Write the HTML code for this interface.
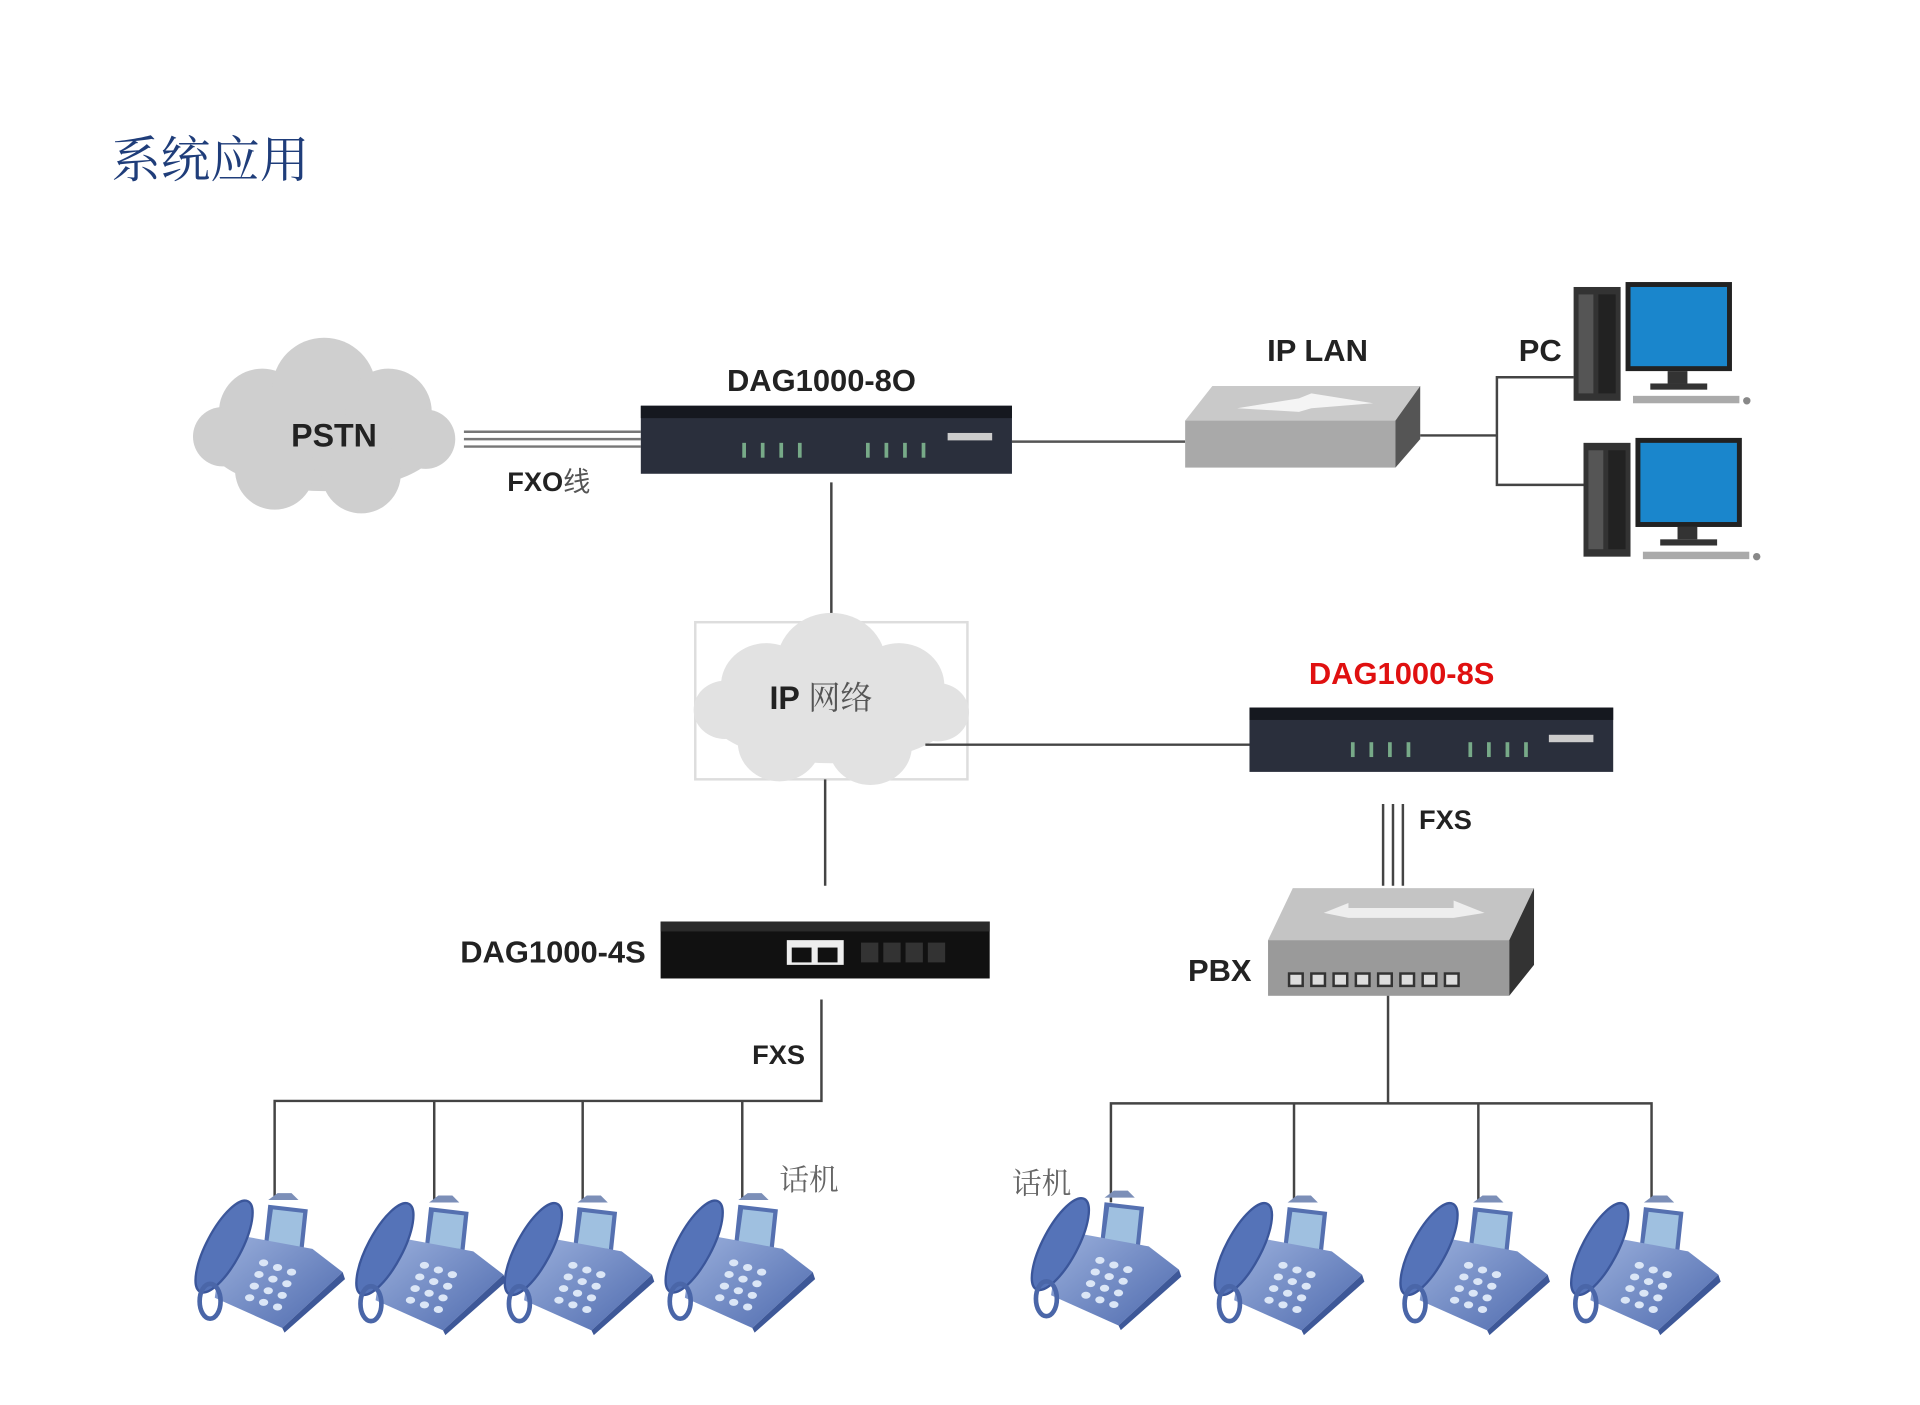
<!DOCTYPE html>
<html><head><meta charset="utf-8"><style>html,body{margin:0;padding:0;background:#fff}svg{display:block}</style></head><body>
<svg width="1920" height="1405" viewBox="0 0 1552 1135.8" preserveAspectRatio="none" xmlns="http://www.w3.org/2000/svg" font-family="Liberation Sans, Noto Sans CJK SC, sans-serif">
<defs>
<linearGradient id="ph" x1="0" y1="0" x2="1" y2="1"><stop offset="0" stop-color="#9bb0dc"/><stop offset="1" stop-color="#4e6aae"/></linearGradient>
<g id="phone">
<path d="M-14,-2 L-6,-8 L6,-8 L12,-2 Z" fill="#7c8fb8"/>
<polygon points="-14,2 20,6 16,44 -18,40" fill="#5570b0"/>
<polygon points="-10,6 16,9 13,38 -14,35" fill="#9fc0e0"/>
<polygon points="-52,26 24,40 50,60 -2,108 -60,82" fill="url(#ph)"/>
<polygon points="-2,108 50,60 52,66 0,112" fill="#3e5898"/>
<ellipse cx="-52" cy="38" rx="15" ry="44" transform="rotate(28 -52 38)" fill="#5573b8" stroke="#3b569a" stroke-width="2"/>
<ellipse cx="-64" cy="85" rx="9" ry="15" fill="none" stroke="#4a66a8" stroke-width="4"/>
<g fill="#dbe6f6">
<ellipse cx="-18" cy="52" rx="4" ry="3"/><ellipse cx="-6" cy="56" rx="4" ry="3"/><ellipse cx="6" cy="60" rx="4" ry="3"/>
<ellipse cx="-22" cy="62" rx="4" ry="3"/><ellipse cx="-10" cy="66" rx="4" ry="3"/><ellipse cx="2" cy="70" rx="4" ry="3"/>
<ellipse cx="-26" cy="72" rx="4" ry="3"/><ellipse cx="-14" cy="76" rx="4" ry="3"/><ellipse cx="-2" cy="80" rx="4" ry="3"/>
<ellipse cx="-30" cy="82" rx="4" ry="3"/><ellipse cx="-18" cy="86" rx="4" ry="3"/><ellipse cx="-6" cy="90" rx="4" ry="3"/>
</g>
</g>
<g id="cloud">
<ellipse cx="0" cy="10" rx="95" ry="42"/><circle cx="-50" cy="-12" r="35"/><circle cx="0" cy="-30" r="42"/><circle cx="52" cy="-12" r="35"/><circle cx="-40" cy="35" r="32"/><circle cx="30" cy="38" r="32"/><circle cx="-82" cy="8" r="24"/><circle cx="82" cy="10" r="24"/>
</g>
<g id="pc">
<rect x="0" y="4" width="38" height="92" fill="#333"/><rect x="4" y="10" width="12" height="80" fill="#555"/><rect x="20" y="10" width="14" height="80" fill="#222"/>
<rect x="42" y="0" width="86" height="72" fill="#222"/><rect x="46" y="4" width="78" height="64" fill="#1a86cc"/>
<rect x="76" y="72" width="16" height="10" fill="#333"/><rect x="62" y="82" width="46" height="5" fill="#333"/>
<rect x="48" y="92" width="86" height="6" fill="#aaa"/><circle cx="140" cy="96" r="3" fill="#888"/>
</g>
</defs>

<text x="90" y="143" font-size="40" fill="#1f3d7a" font-family="Noto Serif CJK SC, serif">系统应用</text>

<g fill="#cfcfcf" transform="translate(262,345)"><use href="#cloud"/></g>
<text x="270" y="361" font-size="26" font-weight="bold" text-anchor="middle" fill="#222">PSTN</text>
<g stroke="#777" stroke-width="2"><line x1="375" y1="349" x2="518" y2="349"/><line x1="375" y1="355" x2="518" y2="355"/><line x1="375" y1="361" x2="518" y2="361"/></g>
<text x="410" y="397" font-size="22" font-weight="bold" fill="#222">FXO<tspan font-weight="normal" fill="#555">线</tspan></text>

<text x="664" y="316" font-size="25" font-weight="bold" text-anchor="middle" fill="#222">DAG1000-8O</text>
<rect x="518" y="328" width="300" height="55" fill="#2a2f3c"/><rect x="518" y="328" width="300" height="10" fill="#15181f"/>
<g fill="#7a8"><rect x="600" y="358" width="3" height="12"/><rect x="615" y="358" width="3" height="12"/><rect x="630" y="358" width="3" height="12"/><rect x="645" y="358" width="3" height="12"/><rect x="700" y="358" width="3" height="12"/><rect x="715" y="358" width="3" height="12"/><rect x="730" y="358" width="3" height="12"/><rect x="745" y="358" width="3" height="12"/></g>
<rect x="766" y="350" width="36" height="6" fill="#ccc"/>

<line x1="818" y1="357" x2="958" y2="357" stroke="#555" stroke-width="2"/>
<text x="1065" y="292" font-size="25" font-weight="bold" text-anchor="middle" fill="#222">IP LAN</text>
<polygon points="980,312 1148,312 1128,340 958,340" fill="#c9c9c9"/>
<rect x="958" y="340" width="170" height="38" fill="#a9a9a9"/>
<polygon points="1128,340 1148,312 1148,355 1128,378" fill="#555"/>
<polygon points="1000,330 1050,322 1060,318 1110,326 1060,330 1050,333" fill="#fff" opacity=".8"/>
<g stroke="#444" stroke-width="2" fill="none"><polyline points="1148,352 1210,352"/><polyline points="1272,305 1210,305 1210,392 1280,392"/></g>
<text x="1245" y="292" font-size="25" font-weight="bold" text-anchor="middle" fill="#222">PC</text>
<g transform="translate(1272,228)"><use href="#pc"/></g>
<g transform="translate(1280,354)"><use href="#pc"/></g>

<line x1="672" y1="390" x2="672" y2="515" stroke="#444" stroke-width="2"/>
<rect x="562" y="503" width="220" height="127" fill="none" stroke="#ddd" stroke-width="2"/>
<g fill="#e2e2e2" transform="translate(672,566) scale(1.05,0.98)"><use href="#cloud"/></g>
<text x="622" y="573" font-size="26" font-weight="bold" fill="#222">IP <tspan font-weight="normal" fill="#555" font-family="Noto Serif CJK SC, serif">网络</tspan></text>
<line x1="748" y1="602" x2="1010" y2="602" stroke="#444" stroke-width="2"/>

<text x="1133" y="553" font-size="25" font-weight="bold" text-anchor="middle" fill="#e01010">DAG1000-8S</text>
<rect x="1010" y="572" width="294" height="52" fill="#2a2f3c"/><rect x="1010" y="572" width="294" height="10" fill="#15181f"/>
<g fill="#7a8"><rect x="1092" y="600" width="3" height="12"/><rect x="1107" y="600" width="3" height="12"/><rect x="1122" y="600" width="3" height="12"/><rect x="1137" y="600" width="3" height="12"/><rect x="1187" y="600" width="3" height="12"/><rect x="1202" y="600" width="3" height="12"/><rect x="1217" y="600" width="3" height="12"/><rect x="1232" y="600" width="3" height="12"/></g>
<rect x="1252" y="594" width="36" height="6" fill="#ccc"/>
<g stroke="#444" stroke-width="2"><line x1="1118" y1="650" x2="1118" y2="716"/><line x1="1126" y1="650" x2="1126" y2="716"/><line x1="1134" y1="650" x2="1134" y2="716"/></g>
<text x="1147" y="670" font-size="22" font-weight="bold" fill="#222">FXS</text>

<polygon points="1045,718 1240,718 1220,760 1025,760" fill="#c4c4c4"/>
<rect x="1025" y="760" width="195" height="45" fill="#9a9a9a"/>
<polygon points="1220,760 1240,718 1240,780 1220,805" fill="#333"/>
<polygon points="1070,738 1090,730 1090,734 1175,734 1175,728 1200,738 1175,742 1090,742" fill="#eee"/>
<g fill="#ddd" stroke="#333" stroke-width="2"><rect x="1042" y="787" width="11" height="10"/><rect x="1060" y="787" width="11" height="10"/><rect x="1078" y="787" width="11" height="10"/><rect x="1096" y="787" width="11" height="10"/><rect x="1114" y="787" width="11" height="10"/><rect x="1132" y="787" width="11" height="10"/><rect x="1150" y="787" width="11" height="10"/><rect x="1168" y="787" width="11" height="10"/></g>
<text x="986" y="793" font-size="25" font-weight="bold" text-anchor="middle" fill="#222">PBX</text>

<line x1="667" y1="630" x2="667" y2="716" stroke="#444" stroke-width="2"/>
<text x="447" y="778" font-size="25" font-weight="bold" text-anchor="middle" fill="#222">DAG1000-4S</text>
<rect x="534" y="745" width="266" height="46" fill="#111"/><rect x="534" y="745" width="266" height="8" fill="#2a2a2a"/>
<rect x="636" y="760" width="46" height="20" fill="#eee"/><rect x="640" y="766" width="16" height="12" fill="#111"/><rect x="661" y="766" width="16" height="12" fill="#111"/>
<g fill="#333"><rect x="696" y="762" width="14" height="16"/><rect x="714" y="762" width="14" height="16"/><rect x="732" y="762" width="14" height="16"/><rect x="750" y="762" width="14" height="16"/></g>

<g stroke="#444" stroke-width="2" fill="none"><polyline points="664,808 664,890 222,890 222,970"/><line x1="351" y1="890" x2="351" y2="972"/><line x1="471" y1="890" x2="471" y2="972"/><line x1="600" y1="890" x2="600" y2="970"/></g>
<text x="608" y="860" font-size="22" font-weight="bold" fill="#222">FXS</text>
<text x="630" y="962" font-size="24" fill="#666" font-family="Noto Serif CJK SC, serif">话机</text>
<g stroke="#444" stroke-width="2" fill="none"><line x1="1122" y1="805" x2="1122" y2="892"/><polyline points="898,972 898,892 1335,892 1335,972"/><line x1="1046" y1="892" x2="1046" y2="972"/><line x1="1195" y1="892" x2="1195" y2="972"/></g>
<text x="818" y="965" font-size="24" fill="#666" font-family="Noto Serif CJK SC, serif">话机</text>

<g transform="translate(230,972) scale(0.94)"><use href="#phone"/></g>
<g transform="translate(360,974) scale(0.94)"><use href="#phone"/></g>
<g transform="translate(480,974) scale(0.94)"><use href="#phone"/></g>
<g transform="translate(610,972) scale(0.94)"><use href="#phone"/></g>
<g transform="translate(906,970) scale(0.94)"><use href="#phone"/></g>
<g transform="translate(1054,974) scale(0.94)"><use href="#phone"/></g>
<g transform="translate(1204,974) scale(0.94)"><use href="#phone"/></g>
<g transform="translate(1342,974) scale(0.94)"><use href="#phone"/></g>
</svg>
</body></html>
